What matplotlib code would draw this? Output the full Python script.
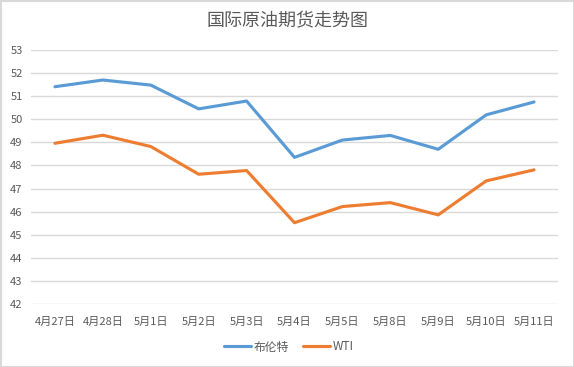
import numpy as np
import matplotlib.pyplot as plt
from matplotlib.patches import Rectangle

plt.rcParams['font.family'] = ['Noto Sans CJK SC', 'DejaVu Sans']

dates = ['4月27日', '4月28日', '5月1日', '5月2日', '5月3日', '5月4日',
         '5月5日', '5月8日', '5月9日', '5月10日', '5月11日']
brent = [51.41, 51.70, 51.48, 50.45, 50.79, 48.35, 49.10, 49.30, 48.70, 50.19, 50.75]
wti = [48.96, 49.31, 48.82, 47.62, 47.78, 45.52, 46.22, 46.39, 45.86, 47.33, 47.81]
y_ticks = np.arange(42, 54, 1)

fig = plt.figure(figsize=(5.74, 3.67), dpi=100)
ax = fig.add_axes([31/574, 1-304/367, 527/574, 254/367])

x = np.arange(len(dates))
ax.plot(x, brent, color='#5B9BD5', lw=2.25, label='布伦特', solid_capstyle='round')
ax.plot(x, wti, color='#ED7D31', lw=2.25, label='WTI', solid_capstyle='round')

ax.set_xlim(-0.5, len(dates) - 0.5)
ax.set_ylim(42, 53)
ax.set_yticks(y_ticks)
ax.set_xticks(x)
ax.set_xticklabels(dates)
ax.grid(axis='y', color='#d9d9d9', lw=1)
ax.set_axisbelow(True)
ax.tick_params(length=0, labelsize=8, colors='#595959')
ax.tick_params(axis='y', pad=6)
ax.tick_params(axis='x', pad=9)
for s in ax.spines.values():
    s.set_visible(False)

fig.text(287/574, 1-21/367, '国际原油期货走势图', ha='center', va='center',
         fontsize=13, color='#595959')

fig.legend(loc='center', bbox_to_anchor=(289/574, 1-347/367), ncol=2, frameon=False,
           fontsize=8.5, labelcolor='#595959', handlelength=2.3, columnspacing=1.2,
           handletextpad=0.2)

fig.patches.append(Rectangle((0.5/574, 0.5/367), 1-1/574, 1-1/367, transform=fig.transFigure,
                             fill=False, edgecolor='#d9d9d9', lw=1.5))

fig.savefig('out.png', dpi=100)
